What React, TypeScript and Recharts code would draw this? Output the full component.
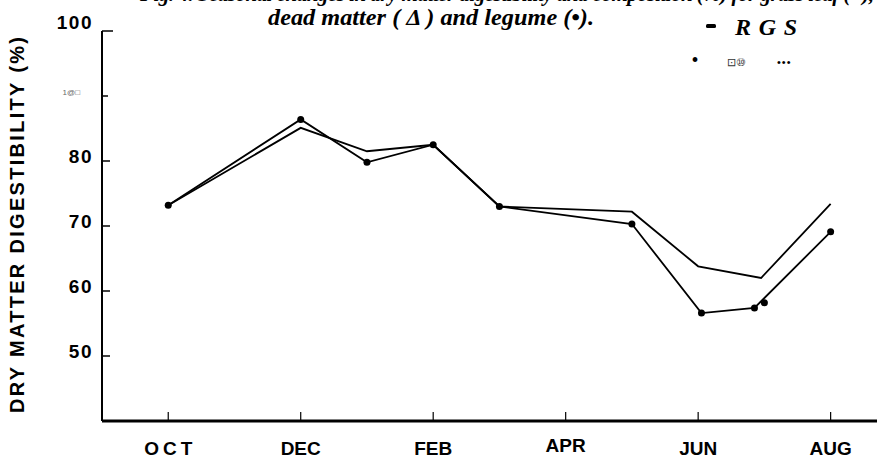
import React from 'react';
import { LineChart, Line, XAxis, YAxis, Label } from 'recharts';

// ---- data ----
const monthLabels = ['OCT', 'NOV', 'DEC', 'JAN', 'FEB', 'MAR', 'APR', 'MAY', 'JUN', 'JUL', 'AUG'];
const xTicks = [0, 2, 4, 6, 8, 10];
const yTicks = [50, 60, 70, 80, 90, 100];
const yTickLabels = ['50', '60', '70', '80', '1@\u25a1', '100'];

// grass leaf (line only)
const grassMonth = [0, 2, 3, 4, 5, 7, 8, 8.95, 10];
const grassValue = [73.2, 85.1, 81.5, 82.5, 73.0, 72.2, 63.8, 62.0, 73.4];

// legume (line with dots)
const legumeMonth = [0, 2, 3, 4, 5, 7, 8.05, 8.85, 10];
const legumeValue = [73.2, 86.4, 79.8, 82.5, 73.0, 70.3, 56.6, 57.4, 69.1];

// isolated extra point near JUL
const extraMonth = [9.0];
const extraValue = [58.2];

const grassData = grassMonth.map((m, i) => ({ m, v: grassValue[i] }));
const legumeData = legumeMonth.map((m, i) => ({ m, v: legumeValue[i] }));
const extraData = extraMonth.map((m, i) => ({ m, v: extraValue[i] }));

const SANS = '"Liberation Sans", Arial, sans-serif';
const SERIF = '"Liberation Serif", "Times New Roman", serif';

const XTick = (props: any) => {
  const { x, y, payload } = props;
  const label = monthLabels[payload.value];
  const spaced = label === 'OCT';
  return (
    <g>
      <line x1={x} x2={x} y1={y - 9} y2={y} stroke="#000" strokeWidth={1.2} />
      <text
        x={spaced ? x + 2 : x}
        y={y + (label === 'APR' ? 31 : 34)}
        textAnchor="middle"
        fontFamily={SANS}
        fontWeight="bold"
        fontSize={19}
        letterSpacing={spaced ? 4 : 0}
        fill="#000"
      >
        {label}
      </text>
    </g>
  );
};

const YTick = (props: any) => {
  const { x, y, payload } = props;
  const v = payload.value;
  const label = yTickLabels[yTicks.indexOf(v)];
  if (v === 90) {
    return (
      <g>
        <line x1={x} x2={x + 6} y1={y} y2={y} stroke="#000" strokeWidth={1.5} />
        <text x={x - 22} y={y - 1} textAnchor="end" fontFamily={SANS} fontSize={8} fill="#666">
          {label}
        </text>
      </g>
    );
  }
  return (
    <g>
      <line x1={x} x2={x + (v === 100 ? 11 : 8)} y1={y} y2={y} stroke="#000" strokeWidth={1.5} />
      <text
        x={x - 9}
        y={v === 100 ? y - 2 : y + 2}
        textAnchor="end"
        fontFamily={SANS}
        fontWeight="bold"
        fontSize={19}
        letterSpacing={1.5}
        fill="#000"
      >
        {label}
      </text>
    </g>
  );
};

const YLabel = () => (
  <text
    x={17}
    y={225}
    transform="rotate(-90, 17, 225)"
    textAnchor="middle"
    dominantBaseline="central"
    fontFamily={SANS}
    fontWeight="bold"
    fontSize={20}
    textLength={376}
    lengthAdjust="spacing"
    fill="#000"
  >
    DRY MATTER DIGESTIBILITY (%)
  </text>
);

export default function App() {
  return (
    <div style={{ position: 'absolute', left: 0, top: 0, width: 877, height: 459, background: '#fff' }}>
      <LineChart
        width={877}
        height={459}
        margin={{ top: 31, right: 0, bottom: 8, left: 42 }}
      >
        <XAxis
          type="number"
          dataKey="m"
          domain={[-1, 10.7]}
          ticks={xTicks}
          allowDataOverflow
          height={30}
          axisLine={{ stroke: '#000', strokeWidth: 3 }}
          tickLine={false}
          tickSize={0}
          tickMargin={0}
          tick={<XTick />}
          interval={0}
        />
        <YAxis
          type="number"
          dataKey="v"
          domain={[40, 100]}
          ticks={yTicks}
          allowDataOverflow
          width={60}
          axisLine={{ stroke: '#000', strokeWidth: 2 }}
          tickLine={false}
          tickSize={0}
          tickMargin={0}
          tick={<YTick />}
          interval={0}
        >
          <Label content={<YLabel />} />
        </YAxis>
        <Line
          data={grassData}
          dataKey="v"
          type="linear"
          stroke="#000"
          strokeWidth={1.8}
          dot={false}
          isAnimationActive={false}
        />
        <Line
          data={legumeData}
          dataKey="v"
          type="linear"
          stroke="#000"
          strokeWidth={1.8}
          dot={{ r: 3.5, fill: '#000', stroke: 'none' }}
          isAnimationActive={false}
        />
        <Line
          data={extraData}
          dataKey="v"
          type="linear"
          stroke="none"
          dot={{ r: 3.5, fill: '#000', stroke: 'none' }}
          isAnimationActive={false}
        />
      </LineChart>
      <svg
        width={877}
        height={459}
        style={{ position: 'absolute', left: 0, top: 0, pointerEvents: 'none' }}
      >
        <text
          x={140}
          y={1}
          fontFamily={SERIF}
          fontStyle="italic"
          fontWeight="bold"
          fontSize={21}
          textLength={734}
          lengthAdjust="spacing"
          fill="#000"
        >
          Fig. 4. Seasonal changes in dry matter digestibility and composition (%) for grass leaf (○),
        </text>
        <text
          x={268}
          y={25}
          fontFamily={SERIF}
          fontStyle="italic"
          fontWeight="bold"
          fontSize={23}
          textLength={326}
          lengthAdjust="spacingAndGlyphs"
          fill="#000"
        >
          dead matter ( Δ ) and legume (•).
        </text>
        <rect x={706} y={24} width={10} height={4} rx={1.5} fill="#000" />
        <text
          x={735}
          y={35}
          fontFamily={SERIF}
          fontStyle="italic"
          fontWeight="bold"
          fontSize={24}
          textLength={62}
          lengthAdjust="spacing"
          fill="#000"
        >
          R G S
        </text>
        <text x={695} y={67} textAnchor="middle" fontFamily={SERIF} fontSize={20} fill="#000">
          •
        </text>
        <text x={727} y={66} fontFamily={SANS} fontSize={11} fill="#333">
          ⊡⑩
        </text>
        <text x={777} y={66} fontFamily={SANS} fontSize={11} fill="#000" letterSpacing={1}>
          •••
        </text>
      </svg>
    </div>
  );
}
